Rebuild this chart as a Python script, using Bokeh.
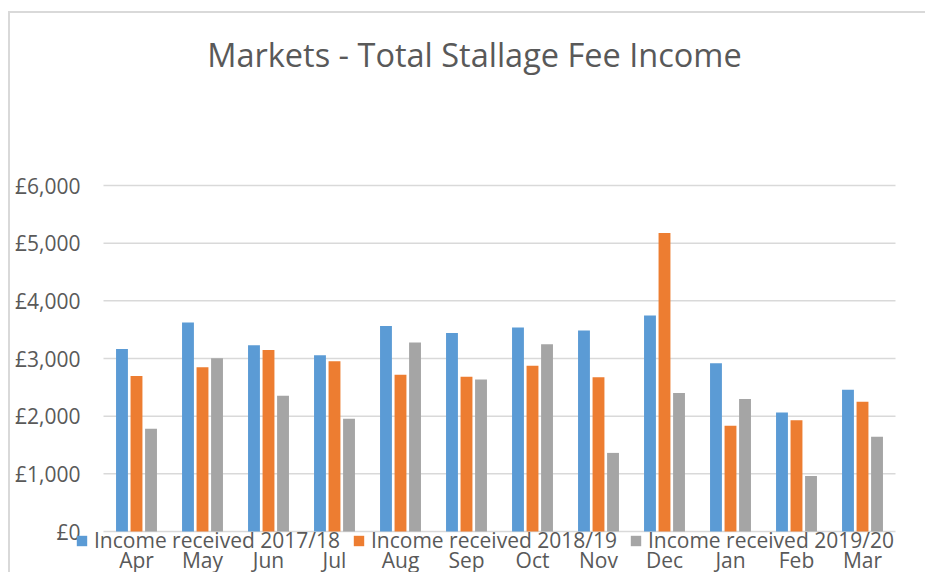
from bokeh.plotting import figure
from bokeh.layouts import column
from bokeh.models import (FactorRange, ColumnDataSource, Legend, LegendItem,
                          Range1d, FixedTicker)
from bokeh.core.properties import value
from bokeh.transform import dodge
from bokeh.embed import file_html
from bokeh.resources import INLINE

months = ["Apr", "May", "Jun", "Jul", "Aug", "Sep", "Oct", "Nov", "Dec", "Jan", "Feb", "Mar"]
income_2017_18 = [3165, 3624, 3230, 3056, 3565, 3443, 3537, 3485, 3746, 2917, 2064, 2459]
income_2018_19 = [2696, 2847, 3148, 2951, 2720, 2685, 2876, 2673, 5177, 1833, 1930, 2250]
income_2019_20 = [1781, 3003, 2355, 1955, 3277, 2638, 3247, 1363, 2400, 2296, 963, 1642]
series_names = ["Income received 2017/18", "Income received 2018/19", "Income received 2019/20"]
y_ticks = [0, 1000, 2000, 3000, 4000, 5000, 6000]
y_tick_labels = ["£0", "£1,000", "£2,000", "£3,000", "£4,000", "£5,000", "£6,000"]
title_text = "Markets - Total Stallage Fee Income"
colors = ["#5B9BD5", "#ED7D31", "#A5A5A5"]

FONT = "Open Sans"
TXT = "#595959"
GRID = "#D9D9D9"

# figure content area sits at page (10, 13) inside a light border
W, H = 915, 559
PX_PER_UNIT = 346 / 6000.0          # 6000 units of value = 346 px
Y_END = 6000 + 172 / PX_PER_UNIT     # frame top at the border
Y_START = -(H - 518) / PX_PER_UNIT   # frame bottom at the window bottom

src = ColumnDataSource(dict(month=months, a=income_2017_18, b=income_2018_19, c=income_2019_20))
grid_src = ColumnDataSource(dict(y=y_ticks, first=[months[0]] * len(y_ticks),
                                 last=[months[-1]] * len(y_ticks)))

p = figure(width=W, height=H,
           x_range=FactorRange(*months, range_padding=28 / 66, range_padding_units="absolute"),
           y_range=Range1d(Y_START, Y_END), x_axis_location=None,
           output_backend="svg", toolbar_location=None,
           min_border_left=65, min_border_right=2, min_border_top=0, min_border_bottom=0)
p.outline_line_color = None
p.grid.visible = False

# horizontal gridlines (value axis), spanning the category area only
p.segment(x0=dodge("first", -0.5, range=p.x_range), x1=dodge("last", 0.5, range=p.x_range),
          y0="y", y1="y", source=grid_src, line_color=GRID, line_width=1.5)

renderers = []
for col, off, color in zip(["a", "b", "c"], [-0.22, 0.0, 0.22], colors):
    r = p.vbar(x=dodge("month", off, range=p.x_range), top=col, width=0.18, source=src,
               fill_color=color, line_color=None)
    renderers.append(r)

# category labels
p.text(x="month", y=-(546 - 518) / PX_PER_UNIT, text="month", source=src,
       text_font=value(FONT), text_font_size="21px", text_color=TXT,
       text_align="center", text_baseline="alphabetic")

# title
title_src = ColumnDataSource(dict(x=["Sep"], t=[title_text]))
p.text(x=dodge("x", 0.12, range=p.x_range), y=6000 + (172 - 41) / PX_PER_UNIT, text="t",
       source=title_src, text_font=value(FONT), text_font_size="32.5px", text_color=TXT,
       text_align="center", text_baseline="alphabetic")

# value axis
p.yaxis.ticker = FixedTicker(ticks=y_ticks)
p.yaxis.major_label_overrides = {t: l for t, l in zip(y_ticks, y_tick_labels)}
p.yaxis.axis_line_color = None
p.yaxis.major_tick_line_color = None
p.yaxis.minor_tick_line_color = None
p.yaxis.major_tick_out = 0
p.yaxis.minor_tick_out = 0
p.yaxis.major_label_text_font = FONT
p.yaxis.major_label_text_font_size = "21px"
p.yaxis.major_label_text_color = TXT
p.yaxis.major_label_standoff = -5

# legend
items = [LegendItem(label=n, renderers=[r]) for n, r in zip(series_names, renderers)]
leg = Legend(items=items, orientation="horizontal", location=(0, 18),
             glyph_width=13, glyph_height=13, label_standoff=6, spacing=12,
             padding=0, margin=0, border_line_color=None, background_fill_alpha=0,
             label_text_font=FONT, label_text_font_size="21px", label_text_color=TXT)
p.add_layout(leg, "center")

layout = column(p, spacing=0,
                styles={"margin-left": "8px", "margin-top": "11px",
                        "border-left": "2px solid #D9D9D9", "border-top": "2px solid #D9D9D9"})

open("out.html", "w").write(file_html(layout, INLINE))
